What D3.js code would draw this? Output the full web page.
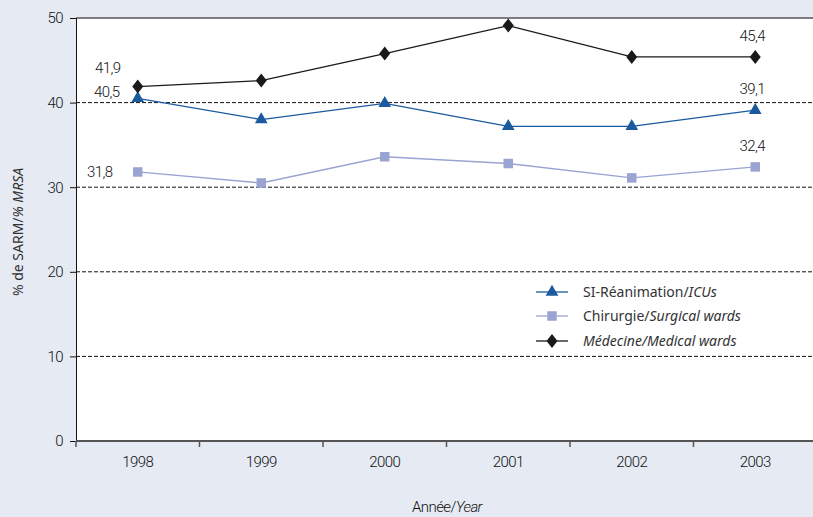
<!DOCTYPE html>
<html><head><meta charset="utf-8">
<script src="https://cdn.jsdelivr.net/npm/d3@7"></script>
<style>
body{margin:0;background:#e5eaf3;}
svg{display:block;}
</style></head>
<body>
<svg id="c" width="813" height="517"></svg>
<script>
const years = ["1998","1999","2000","2001","2002","2003"];
const icu = [40.5, 38.0, 39.9, 37.2, 37.2, 39.1];
const surgical = [31.8, 30.5, 33.6, 32.8, 31.1, 32.4];
const medicine = [41.9, 42.6, 45.8, 49.1, 45.4, 45.4];
const yTicks = [0, 10, 20, 30, 40, 50];

(function(){
const svg = d3.select("#c");
const W = 813, H = 517;
const pLeft = 76, pTop = 18, pBottom = 441;
const narrow = "Roboto, sans-serif";
const nw = 300, ns = 15, nls = -0.6;
const x = d3.scaleBand().domain(years).range([pLeft, pLeft + 6 * 123.5]);
const y = d3.scaleLinear().domain([0, 50]).range([pBottom, pTop]);

svg.append("rect").attr("width", W).attr("height", H).attr("fill", "#e5eaf3");
svg.append("rect").attr("x", pLeft).attr("y", pTop).attr("width", W - pLeft).attr("height", pBottom - pTop).attr("fill", "#fff");

const styleN = sel => sel.attr("font-family", narrow).attr("font-size", ns)
  .attr("font-weight", nw).attr("letter-spacing", nls).attr("fill", "#111");

// gridlines
svg.append("g").selectAll("line").data([10, 20, 30, 40]).join("line")
  .attr("x1", pLeft).attr("x2", W).attr("y1", d => y(d)).attr("y2", d => y(d))
  .attr("stroke", "#111").attr("stroke-width", 1).attr("stroke-dasharray", "4,2");
svg.append("line").attr("x1", pLeft).attr("x2", W).attr("y1", y(50)).attr("y2", y(50))
  .attr("stroke", "#555").attr("stroke-width", 1.5);

// y axis
const ya = svg.append("g").attr("transform", `translate(${pLeft},0)`)
  .call(d3.axisLeft(y).tickValues(yTicks).tickSize(6).tickPadding(7));
ya.select(".domain").attr("stroke", "#111");
ya.selectAll("line").attr("stroke", "#111");
styleN(ya.selectAll("text"));

// x axis
const xa = svg.append("g").attr("transform", `translate(0,${pBottom})`)
  .call(d3.axisBottom(x).tickSize(0).tickPadding(15));
xa.select(".domain").remove();
styleN(xa.selectAll("text"));
svg.append("line").attr("x1", pLeft).attr("x2", W).attr("y1", pBottom).attr("y2", pBottom)
  .attr("stroke", "#555").attr("stroke-width", 2);
svg.append("g").selectAll("line").data(years).join("line")
  .attr("x1", d => x(d)).attr("x2", d => x(d)).attr("y1", pBottom).attr("y2", pBottom + 6)
  .attr("stroke", "#555").attr("stroke-width", 1.5);

const diamond = {draw(ctx, size) { const w = 5.5, h = 7; ctx.moveTo(0,-h); ctx.lineTo(w,0); ctx.lineTo(0,h); ctx.lineTo(-w,0); ctx.closePath(); }};
const series = [
  {name: "icu", vals: icu, color: "#1b5a9e", shape: d3.symbolTriangle, size: 70},
  {name: "surg", vals: surgical, color: "#99a4d2", shape: d3.symbolSquare, size: 90},
  {name: "med", vals: medicine, color: "#1a1a1a", shape: diamond, size: 75}
];
const cx = d => x(d) + x.bandwidth() / 2;
const line = d3.line().x((d, i) => cx(years[i])).y(d => y(d));
series.forEach(s => {
  svg.append("path").datum(s.vals).attr("d", line).attr("fill", "none")
    .attr("stroke", s.color).attr("stroke-width", 1.3);
  svg.append("g").selectAll("path").data(s.vals).join("path")
    .attr("transform", (d, i) => `translate(${cx(years[i])},${y(d)})`)
    .attr("d", d3.symbol().type(s.shape).size(s.size)).attr("fill", s.color);
});

const fmt = v => String(v).replace(".", ",");
const labels = [
  {v: medicine[0], i: 0, dx: -30, dy: -14},
  {v: icu[0], i: 0, dx: -31, dy: -1},
  {v: surgical[0], i: 0, dx: -38, dy: 5},
  {v: medicine[5], i: 5, dx: -3, dy: -16},
  {v: icu[5], i: 5, dx: -3, dy: -16},
  {v: surgical[5], i: 5, dx: -3, dy: -16}
];
styleN(svg.append("g").selectAll("text").data(labels).join("text")
  .attr("x", d => cx(years[d.i]) + d.dx).attr("y", d => y(d.v) + d.dy)
  .attr("text-anchor", "middle")
  .text(d => fmt(d.v)));

// legend
const legFont = "'Noto Sans','Open Sans',sans-serif";
const leg = [
  {s: series[0], a: "SI-Réanimation/", b: "ICUs", ai: false, y: 292},
  {s: series[1], a: "Chirurgie/", b: "Surgical wards", ai: false, y: 316},
  {s: series[2], a: "Médecine/", b: "Medical wards", ai: true, y: 341}
];
leg.forEach(l => {
  svg.append("line").attr("x1", 536).attr("x2", 568).attr("y1", l.y).attr("y2", l.y)
    .attr("stroke", l.s.color).attr("stroke-width", 1.3);
  svg.append("path").attr("transform", `translate(552,${l.y})`)
    .attr("d", d3.symbol().type(l.s.shape).size(l.s.size)).attr("fill", l.s.color);
  const t = svg.append("text").attr("x", 583).attr("y", l.y + 5)
    .attr("font-family", legFont).attr("font-size", 14).attr("fill", "#333");
  t.append("tspan").attr("font-style", l.ai ? "italic" : "normal").text(l.a);
  t.append("tspan").attr("font-style", "italic").text(l.b);
});

// axis titles
const yt = svg.append("text").attr("transform", "translate(23,232) rotate(-90)")
  .attr("text-anchor", "middle").attr("font-family", legFont).attr("font-size", 14)
  .attr("fill", "#333");
yt.append("tspan").text("% de SARM/");
yt.append("tspan").attr("font-style", "italic").text("% MRSA");
const xt = styleN(svg.append("text").attr("x", 447).attr("y", 512).attr("text-anchor", "middle"));
xt.append("tspan").text("Année/");
xt.append("tspan").attr("font-style", "italic").text("Year");
})();
</script>
</body></html>
